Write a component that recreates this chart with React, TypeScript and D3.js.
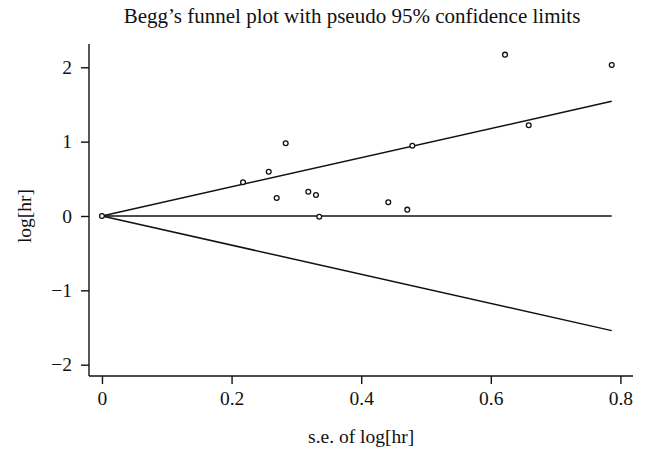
import { useEffect, useRef } from "react";
import * as d3 from "d3";

// study standard errors and log hazard ratios
const se = [0, 0.2176, 0.2573, 0.2696, 0.2835, 0.3184, 0.3302, 0.3353, 0.4418, 0.4711, 0.4789, 0.6219, 0.6585, 0.7866];
const logHr = [0, 0.453, 0.595, 0.242, 0.978, 0.326, 0.282, -0.01, 0.185, 0.085, 0.944, 2.17, 1.22, 2.03];

const xTicks = [0, 0.2, 0.4, 0.6, 0.8];
const yTicks = [-2, -1, 0, 1, 2];
const pooled = 0;
const z = 1.96;

export default function App() {
  const svgRef = useRef<SVGSVGElement>(null);

  useEffect(() => {
    if (!svgRef.current) return;
    const svg = d3.select(svgRef.current);
    svg.selectAll("*").remove();

    const width = 646;
    const height = 460;
    const left = 89;
    const right = 633;
    const top = 44;
    const bottom = 376;
    const font = "'Liberation Serif', 'Times New Roman', serif";

    const x = d3.scaleLinear().domain([-0.02, 0.8194]).range([left, right]);
    const y = d3.scaleLinear().domain([-2.152, 2.313]).range([bottom, top]);

    svg.attr("width", width).attr("height", height);

    // title
    svg
      .append("text")
      .attr("x", 352)
      .attr("y", 23)
      .attr("text-anchor", "middle")
      .style("font-family", font)
      .style("font-size", "21px")
      .attr("fill", "#111")
      .text("Begg\u2019s funnel plot with pseudo 95% confidence limits");

    // axes
    const xAxis = svg
      .append("g")
      .attr("transform", `translate(0,${bottom})`)
      .call(
        d3
          .axisBottom(x)
          .tickValues(xTicks)
          .tickSize(8)
          .tickPadding(7)
          .tickFormat((d) => (d === 0 ? "0" : d3.format(".1f")(d as number)))
      );
    xAxis.select(".domain").attr("d", `M${left},0H${right}`);

    const yAxis = svg
      .append("g")
      .attr("transform", `translate(${left},0)`)
      .call(
        d3
          .axisLeft(y)
          .tickValues(yTicks)
          .tickSize(8)
          .tickPadding(9)
          .tickFormat((d) => d3.format("d")(d as number).replace("-", "\u2212"))
      );
    yAxis.select(".domain").attr("d", `M0,${top}V${bottom}`);

    [xAxis, yAxis].forEach((a) => {
      a.attr("font-family", null).attr("font-size", null);
      a.selectAll("path, line").attr("stroke", "#111").attr("stroke-width", 1.4);
      a.selectAll("text")
        .style("font-family", font)
        .style("font-size", "19.5px")
        .attr("fill", "#111");
    });

    // axis titles
    svg
      .append("text")
      .attr("x", (x(0) + x(0.8)) / 2)
      .attr("y", 443)
      .attr("text-anchor", "middle")
      .style("font-family", font)
      .style("font-size", "19.5px")
      .attr("fill", "#111")
      .text("s.e. of log[hr]");

    svg
      .append("text")
      .attr("transform", `translate(31,${y(0)}) rotate(-90)`)
      .attr("text-anchor", "middle")
      .style("font-family", font)
      .style("font-size", "19.5px")
      .attr("fill", "#111")
      .text("log[hr]");

    // funnel lines
    const seMax = d3.max(se) as number;
    const lines: [number, number][][] = [
      [[0, pooled], [seMax, pooled + z * seMax]],
      [[0, pooled], [seMax, pooled]],
      [[0, pooled], [seMax, pooled - z * seMax]],
    ];
    const line = d3
      .line<[number, number]>()
      .x((d) => x(d[0]))
      .y((d) => y(d[1]));
    lines.forEach((l) => {
      svg
        .append("path")
        .attr("d", line(l))
        .attr("fill", "none")
        .attr("stroke", "#111")
        .attr("stroke-width", 1.5);
    });

    // study points
    svg
      .append("g")
      .selectAll("circle")
      .data(se)
      .join("circle")
      .attr("cx", (d) => x(d))
      .attr("cy", (_, i) => y(logHr[i]))
      .attr("r", 2.4)
      .attr("fill", "white")
      .attr("stroke", "#111")
      .attr("stroke-width", 1.3);
  }, []);

  return (
    <div style={{ position: "fixed", top: 0, left: 0, background: "white" }}>
      <svg ref={svgRef}></svg>
    </div>
  );
}
